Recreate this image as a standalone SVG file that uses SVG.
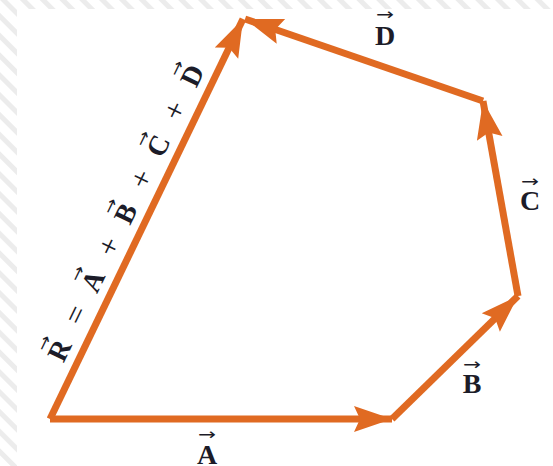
<svg xmlns="http://www.w3.org/2000/svg" width="553" height="466" viewBox="0 0 553 466">
  <defs>
    <pattern id="hatch" width="14" height="14" patternUnits="userSpaceOnUse" patternTransform="rotate(-45)">
      <rect x="0" y="0" width="5" height="14" fill="#ececec"/>
    </pattern>
    <marker id="head" markerUnits="userSpaceOnUse" markerWidth="42" markerHeight="30" viewBox="-40 -15 42 30" refX="0" refY="0" orient="auto">
      <path d="M0,0 L-38,-13 L-32,0 L-38,13 Z" fill="#E06A22"/>
    </marker>
    <style>
      .vec { stroke: #E06A22; stroke-width: 7; fill: none; stroke-linejoin: miter; }
      .lbl { font-family: "Liberation Serif", "Times New Roman", serif; font-weight: bold; font-size: 28px; fill: #1c1c28; text-anchor: middle; }
      .op { font-family: "Liberation Serif", "Times New Roman", serif; font-weight: normal; font-size: 31px; fill: #1c1c28; text-anchor: middle; }
      .ar { font-family: "DejaVu Sans", sans-serif; font-weight: normal; font-size: 16px; }
    </style>
  </defs>

  <rect width="553" height="466" fill="#ffffff"/>
  <rect x="0" y="0" width="17" height="466" fill="url(#hatch)"/>
  <rect x="17" y="0" width="536" height="9" fill="url(#hatch)"/>

  <g id="connectors">
    <line id="vecA" class="vec" x1="50" y1="419" x2="392" y2="419" marker-end="url(#head)"/>
    <line id="vecB" class="vec" x1="392" y1="419" x2="518" y2="296" marker-end="url(#head)"/>
    <line id="vecC" class="vec" x1="518" y1="296" x2="483" y2="101" marker-end="url(#head)"/>
    <line id="vecD" class="vec" x1="483" y1="101" x2="245" y2="19" marker-end="url(#head)"/>
    <line id="vecR" class="vec" x1="50" y1="419" x2="243" y2="19" marker-end="url(#head)"/>
  </g>

  <g id="label-A">
    <text class="lbl" x="207" y="464">A<tspan class="ar" x="207" y="440" textLength="18" lengthAdjust="spacingAndGlyphs">→</tspan></text>
  </g>
  <g id="label-B">
    <text class="lbl" x="472" y="393">B<tspan class="ar" x="472" y="370" textLength="18" lengthAdjust="spacingAndGlyphs">→</tspan></text>
  </g>
  <g id="label-C">
    <text class="lbl" x="530" y="210">C<tspan class="ar" x="530" y="187" textLength="18" lengthAdjust="spacingAndGlyphs">→</tspan></text>
  </g>
  <g id="label-D">
    <text class="lbl" x="385" y="45">D<tspan class="ar" x="385" y="20" textLength="18" lengthAdjust="spacingAndGlyphs">→</tspan></text>
  </g>

  <g id="label-R" transform="translate(50,419) rotate(-64.2)">
    <text class="lbl" x="66" y="-12">R<tspan class="ar" x="66" y="-33" textLength="16" lengthAdjust="spacingAndGlyphs">→</tspan></text>
    <text class="op" x="105" y="-12">=</text>
    <text class="lbl" x="143" y="-12">A<tspan class="ar" x="143" y="-33" textLength="16" lengthAdjust="spacingAndGlyphs">→</tspan></text>
    <text class="op" x="181" y="-12">+</text>
    <text class="lbl" x="218" y="-12">B<tspan class="ar" x="218" y="-33" textLength="16" lengthAdjust="spacingAndGlyphs">→</tspan></text>
    <text class="op" x="256" y="-12">+</text>
    <text class="lbl" x="293" y="-12">C<tspan class="ar" x="293" y="-33" textLength="16" lengthAdjust="spacingAndGlyphs">→</tspan></text>
    <text class="op" x="332" y="-12">+</text>
    <text class="lbl" x="371" y="-12">D<tspan class="ar" x="371" y="-33" textLength="16" lengthAdjust="spacingAndGlyphs">→</tspan></text>
  </g>
</svg>
